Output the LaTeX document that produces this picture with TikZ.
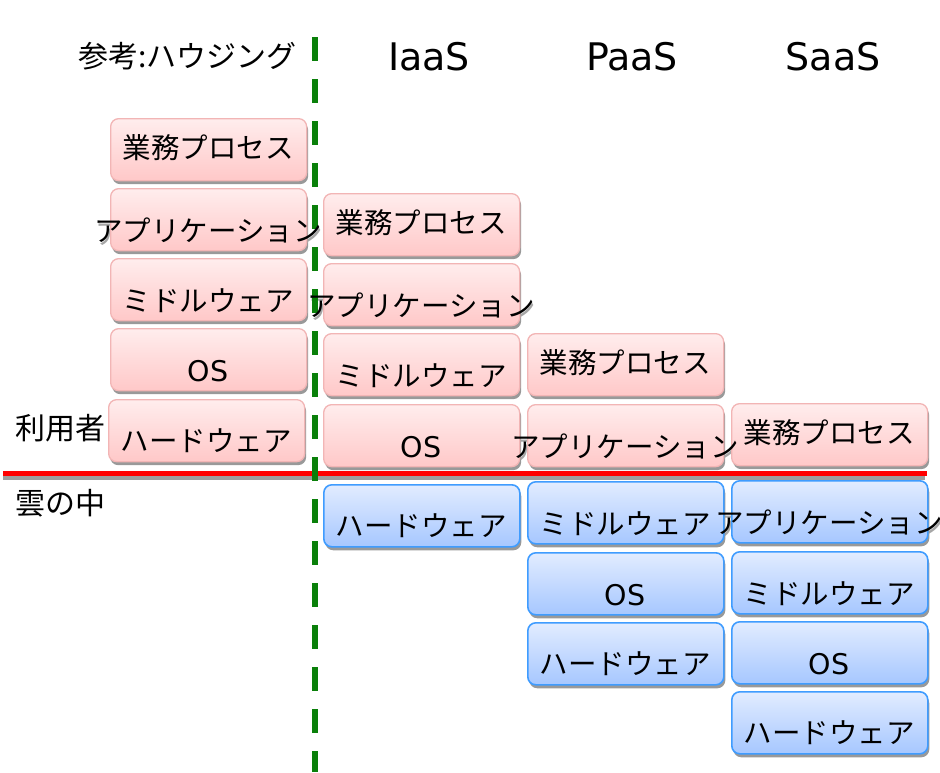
\documentclass[tikz,border=0pt]{standalone}
\usepackage{fontspec}
\setmainfont{Noto Sans CJK JP}
\newfontfamily\latfont{DejaVu Sans}
\usetikzlibrary{shadows}
\pgfdeclarelayer{tshadow}
\pgfdeclarelayer{boxes}
\pgfsetlayers{tshadow,boxes,main}
\definecolor{pinktop}{HTML}{FFEDED}
\definecolor{pinkbot}{HTML}{FFC8C8}
\definecolor{pinkline}{HTML}{F2B5B5}
\definecolor{bluetop}{HTML}{E2ECFF}
\definecolor{bluebot}{HTML}{A6C7FF}
\definecolor{blueline}{HTML}{3F9CFF}
\definecolor{dgreen}{HTML}{0A800A}
\tikzset{
  layerbase/.style={rounded corners=8pt, minimum width=196pt, minimum height=62pt, inner sep=0pt, anchor=north west,
    drop shadow={shadow xshift=1.5pt, shadow yshift=-3.5pt, fill=black!40, opacity=1}},
  pinkbox/.style={layerbase, draw=pinkline, line width=1.3pt, top color=pinktop, bottom color=pinkbot},
  bluebox/.style={layerbase, draw=blueline, line width=1.6pt, top color=bluetop, bottom color=bluebot},
  lbl/.style={inner sep=0pt, anchor=base, font=\fontsize{28.5}{30}\selectfont},
  lblshadow/.style={lbl, text=black!35},
  heading/.style={inner sep=0pt, font=\fontsize{30}{32}\selectfont},
  service/.style={inner sep=0pt, anchor=base, font=\latfont\fontsize{38}{40}\selectfont},
}
\newcommand\mkbox[6]{%
  \begin{pgfonlayer}{boxes}
    \node[#2] (#1) at (#3,#4) {};
  \end{pgfonlayer}
  \begin{pgfonlayer}{tshadow}
    \node[lblshadow] (#1s) at ({#3+98+1.5},{#4+#6+10.8+2.5}) {#5};
  \end{pgfonlayer}
  \node[lbl] (#1t) at ({#3+98},{#4+#6+10.8}) {#5};
}
\begin{document}
\begin{tikzpicture}[x=1pt,y=-1pt]
\useasboundingbox (0,0) rectangle (940,772);
% red boundary line with its shadow
\coordinate (rl) at (3,473);
\coordinate (rr) at (927,473);
\coordinate (sl) at (3,477.5);
\coordinate (sr) at (925,477.5);
\draw[black!38, line width=4pt] (sl) -- (sr);
\draw[red, line width=5pt] (rl) -- (rr);
% green dashed divider
\coordinate (gt) at (315,37);
\coordinate (gb) at (315,772);
\draw[dgreen, line width=6pt, dash pattern=on 24pt off 18pt] (gt) -- (gb);
% headings
\node[heading, anchor=base east] (hous) at (297,67.5) {参考:ハウジング};
\node[service] (iaas) at (429,70) {IaaS};
\node[service] (paas) at (632,70) {PaaS};
\node[service] (saas) at (833,70) {SaaS};
\node[heading, anchor=base west] (user) at (15,439) {利用者};
\node[heading, anchor=base west] (cloud) at (15,514) {雲の中};
% housing
\mkbox{h1}{pinkbox}{110}{118}{業務プロセス}{29.5}
\mkbox{h2}{pinkbox}{110}{188}{アプリケーション}{43}
\mkbox{h3}{pinkbox}{110}{258}{ミドルウェア}{43}
\mkbox{h4}{pinkbox}{110}{328}{{\latfont OS}}{43}
\mkbox{h5}{pinkbox}{108}{399}{ハードウェア}{42}
% IaaS
\mkbox{i1}{pinkbox}{323}{193}{業務プロセス}{29.5}
\mkbox{i2}{pinkbox}{323}{263}{アプリケーション}{43}
\mkbox{i3}{pinkbox}{323}{333}{ミドルウェア}{43}
\mkbox{i4}{pinkbox}{323}{404}{{\latfont OS}}{43}
\mkbox{i5}{bluebox}{323}{484}{ハードウェア}{42}
% PaaS
\mkbox{p1}{pinkbox}{527}{333}{業務プロセス}{29.5}
\mkbox{p2}{pinkbox}{527}{404}{アプリケーション}{43}
\mkbox{p3}{bluebox}{527}{481}{ミドルウェア}{43}
\mkbox{p4}{bluebox}{527}{552}{{\latfont OS}}{43}
\mkbox{p5}{bluebox}{527}{622}{ハードウェア}{42}
% SaaS
\mkbox{s1}{pinkbox}{731}{403}{業務プロセス}{29.5}
\mkbox{s2}{bluebox}{731}{480}{アプリケーション}{43}
\mkbox{s3}{bluebox}{731}{551}{ミドルウェア}{43}
\mkbox{s4}{bluebox}{731}{621}{{\latfont OS}}{43}
\mkbox{s5}{bluebox}{731}{691}{ハードウェア}{42}
\end{tikzpicture}
\end{document}
